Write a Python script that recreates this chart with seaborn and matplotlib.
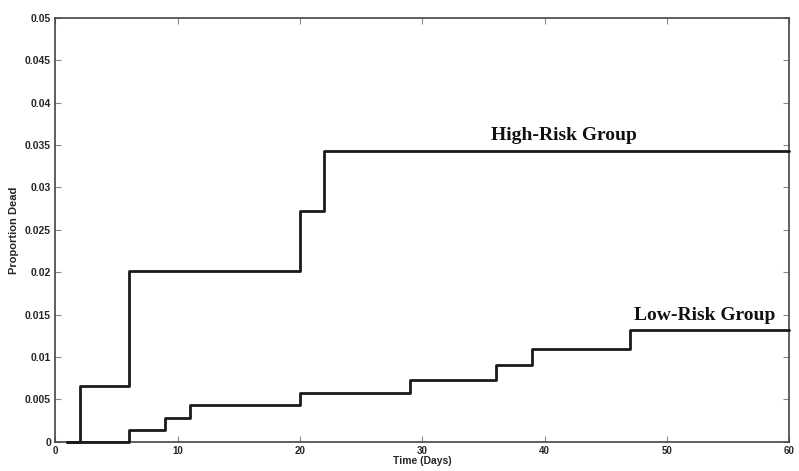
import matplotlib
matplotlib.use("Agg")
import matplotlib.pyplot as plt
import seaborn as sns
import numpy as np

# Data
high_days = [1, 2, 6, 20, 22, 60]
high_prop = [0.0, 0.0066, 0.0201, 0.0272, 0.0343, 0.0343]
low_days = [1, 6, 9, 11, 20, 29, 36, 39, 47, 60]
low_prop = [0.0, 0.0014, 0.0028, 0.0043, 0.0057, 0.0073, 0.0091, 0.0110, 0.0132, 0.0132]
x_ticks = [0, 10, 20, 30, 40, 50, 60]
y_ticks = [0, 0.005, 0.01, 0.015, 0.02, 0.025, 0.03, 0.035, 0.04, 0.045, 0.05]
y_tick_labels = ["0", "0.005", "0.01", "0.015", "0.02", "0.025", "0.03", "0.035", "0.04", "0.045", "0.05"]

sns.set_theme(style="white")
plt.rcParams['font.family'] = ['Liberation Sans', 'DejaVu Sans']

fig = plt.figure(figsize=(7.99, 4.71), dpi=100)
ax = fig.add_axes([0.069, 0.062, 0.919, 0.9])

sns.lineplot(x=high_days, y=high_prop, ax=ax, color="#1a1a1a", linewidth=2.0,
             drawstyle="steps-post", estimator=None, sort=False, clip_on=False, zorder=4)
sns.lineplot(x=low_days, y=low_prop, ax=ax, color="#1a1a1a", linewidth=2.0,
             drawstyle="steps-post", estimator=None, sort=False, clip_on=False, zorder=4)

ax.set_xlim(0, 60)
ax.set_ylim(0, 0.05)
ax.set_xticks(x_ticks)
ax.set_xticklabels([str(t) for t in x_ticks], fontsize=7, fontweight="bold")
ax.set_yticks(y_ticks)
ax.set_yticklabels(y_tick_labels, fontsize=7.5, fontweight="bold")

ax.tick_params(axis="both", which="both", direction="in", length=4, width=0.8,
               color="#888888", top=True, right=True, bottom=True, left=True, pad=3)
for t in ax.xaxis.get_ticklines() + ax.yaxis.get_ticklines():
    t.set_linestyle(":")

for s in ax.spines.values():
    s.set_visible(True)
    s.set_color("#444444")
    s.set_linewidth(1.2)
    s.set_linestyle((0, (1, 1)))

ax.set_xlabel("Time (Days)", fontsize=7.5, fontweight="bold", labelpad=0)
ax.set_ylabel("Proportion Dead", fontsize=8, fontweight="bold", labelpad=4)

ax.text(41.6, 0.0361, "High-Risk Group", fontsize=14, fontweight="bold",
        family=["Liberation Serif", "DejaVu Serif"], ha="center", va="center", color="#111111")
ax.text(53.1, 0.0149, "Low-Risk Group", fontsize=14, fontweight="bold",
        family=["Liberation Serif", "DejaVu Serif"], ha="center", va="center", color="#111111")

fig.savefig("out.png", dpi=100)
